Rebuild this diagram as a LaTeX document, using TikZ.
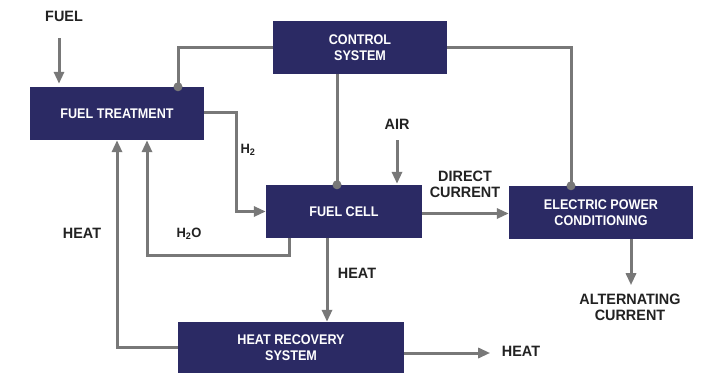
\documentclass[tikz,border=0pt]{standalone}
\usepackage{fontspec}
\setmainfont{Liberation Sans}
\newfontfamily\boxfont{Liberation Sans}[FakeStretch=0.9]
\newfontfamily\lblfont{Liberation Sans}[FakeStretch=0.96]
\usetikzlibrary{arrows.meta}
\definecolor{navy}{HTML}{2B2A64}
\definecolor{linegray}{HTML}{787878}
\definecolor{txt}{HTML}{222222}
\tikzset{
  blk/.style={fill=navy, draw=none, text=white, align=center, inner sep=0pt,
    font=\boxfont\bfseries\fontsize{14}{15.5}\selectfont},
  lbl/.style={text=txt, align=center, inner sep=0pt,
    font=\lblfont\bfseries\fontsize{15}{18}\selectfont},
  conn/.style={draw=linegray, line width=3pt},
  arr/.style={conn, -{Triangle[length=12pt,width=10pt]}},
  jdot/.style={fill=linegray}
}
\begin{document}
\begin{tikzpicture}[x=1pt,y=-1pt]
\useasboundingbox[fill=white] (0,0) rectangle (720,375);
% blocks
\node[blk, minimum width=174pt, minimum height=53pt] (ft) at (117,113.5) {FUEL TREATMENT};
\node[blk, minimum width=174pt, minimum height=53pt] (cs) at (360,47.5) {CONTROL\\[0.5pt]SYSTEM};
\node[blk, minimum width=156pt, minimum height=53pt] (fc) at (344,211.5) {FUEL CELL};
\node[blk, minimum width=184pt, minimum height=53pt] (epc) at (601,212.5) {ELECTRIC POWER\\CONDITIONING};
\node[blk, minimum width=226pt, minimum height=51pt] (hr) at (291,347.5) {HEAT RECOVERY\\SYSTEM};
% labels
\node[lbl] (lfuel) at (64,16.5) {FUEL};
\node[lbl] (lair) at (397,124) {AIR};
\node[lbl] (ldc) at (465,184) {DIRECT\\[-2pt]CURRENT};
\node[lbl, font=\lblfont\bfseries\fontsize{13.5}{15}\selectfont] (lh2) at (248,150) {H\textsubscript{2}};
\node[lbl, font=\lblfont\bfseries\fontsize{13.5}{15}\selectfont] (lh2o) at (189,234) {H\textsubscript{2}O};
\node[lbl] (lheatl) at (82,233) {HEAT};
\node[lbl] (lheatm) at (357,273) {HEAT};
\node[lbl] (lac) at (630,307) {ALTERNATING\\[-2pt]CURRENT};
\node[lbl] (lheatr) at (521,351) {HEAT};
% coordinates
\coordinate (ftdot) at ([xshift=61pt]ft.north);
\coordinate (fcdot) at ([xshift=-7pt]fc.north);
\coordinate (epcdot) at ([xshift=-30pt]epc.north);
\coordinate (fuelin) at (59,38);
\coordinate (airin) at (397,140);
% control lines
\draw[conn] (cs.west) -| (ftdot);
\draw[conn] (cs.south -| fcdot) -- (fcdot);
\draw[conn] (cs.east) -| (epcdot);
\fill[jdot] (ftdot) circle (4.5pt);
\fill[jdot] (fcdot) circle (4.5pt);
\fill[jdot] (epcdot) circle (4.5pt);
% flows
\draw[arr] (fuelin) -- ([xshift=-58pt,yshift=3pt]ft.north);
\draw[arr] ([yshift=1.5pt]ft.east) -- ++(32,0) |- (fc.west);
\draw[arr] ([xshift=-55pt]fc.south) -- ++(0,17.5) -| ([xshift=30pt]ft.south);
\draw[arr] (hr.west) -| (ft.south);
\draw[arr] ([xshift=-17pt]fc.south) -- ([xshift=-17pt]fc.south |- hr.north);
\draw[arr] (airin) -- ([xshift=53pt,yshift=1pt]fc.north);
\draw[arr] ([yshift=-2pt]fc.east) -- ([yshift=-2pt]fc.east -| epc.west);
\draw[arr] ([xshift=30pt]epc.south) -- ++(0,46);
\draw[arr] ([yshift=-5.5pt]hr.east) -- ++(86,0);
\end{tikzpicture}
\end{document}
